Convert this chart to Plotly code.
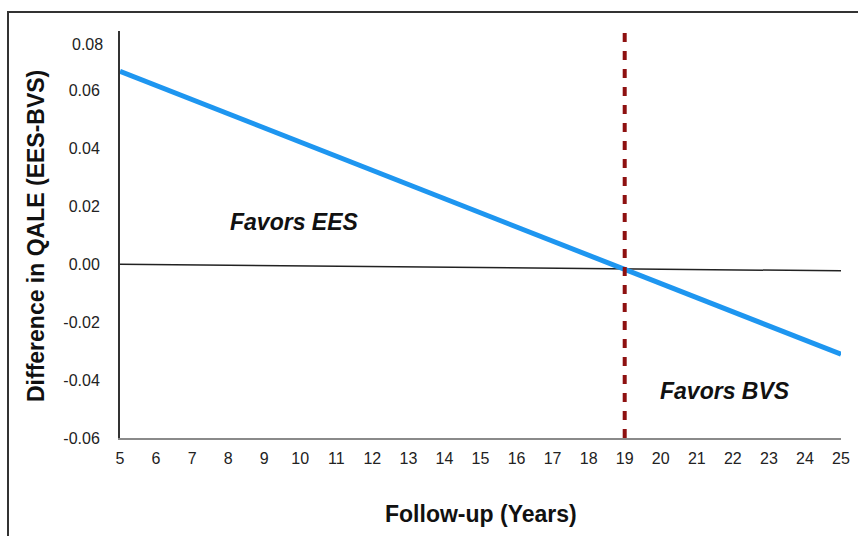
import plotly.graph_objects as go

# Data
years = [5, 25]
qale_diff = [0.0666, -0.0311]
baseline = [0.0, -0.0023]
threshold_year = 19
y_range = [-0.06, 0.0805]
x_ticks = list(range(5, 26))
y_ticks = [-0.06, -0.04, -0.02, 0.0, 0.02, 0.04, 0.06]
y_tick_text = ["-0.06", "-0.04", "-0.02", "0.00", "0.02", "0.04", "0.06"]

W, H = 858, 536
L, R, T, B = 120, 17, 31, 98
pw, ph = W - L - R, H - T - B

fig = go.Figure()
fig.add_trace(go.Scatter(x=years, y=baseline, mode="lines",
                         line=dict(color="#222222", width=1.5), hoverinfo="skip"))
fig.add_trace(go.Scatter(x=years, y=qale_diff, mode="lines",
                         line=dict(color="#1E96F0", width=5)))
fig.add_trace(go.Scatter(x=[threshold_year, threshold_year], y=[y_range[0], y_range[1]],
                         mode="lines", line=dict(color="#8E1111", width=4, dash="9px,9px")))

font = "Liberation Sans, Arial, sans-serif"
fig.update_layout(
    width=W, height=H, showlegend=False, autosize=False,
    margin=dict(l=L, r=R, t=T, b=B, pad=0),
    paper_bgcolor="white", plot_bgcolor="white",
    font=dict(family=font, size=16, color="#222222"),
    xaxis=dict(range=[5, 25], tickvals=x_ticks, showgrid=False, zeroline=False,
               showline=True, linecolor="#8a8a8a", linewidth=1.5, automargin=False,
               ticks="", ticklabelstandoff=5, tickfont=dict(size=16)),
    yaxis=dict(range=y_range, tickvals=y_ticks, ticktext=y_tick_text, showgrid=False,
               zeroline=False, showline=True, linecolor="#333333", linewidth=2,
               automargin=False, ticks="", ticklabelstandoff=15, tickfont=dict(size=16)),
)

def px(x):
    return (x - L) / pw

def py(y):
    return 1 - (y - T) / ph

annos = [
    dict(text="0.08", x=px(105), y=py(45), xanchor="right", yanchor="middle",
         font=dict(size=16, color="#222222")),
    dict(text="<b><i>Favors EES</i></b>", x=px(294), y=py(222), xanchor="center",
         yanchor="middle", font=dict(size=23, color="#111111")),
    dict(text="<b><i>Favors BVS</i></b>", x=px(725), y=py(391), xanchor="center",
         yanchor="middle", font=dict(size=23, color="#111111")),
    dict(text="<b>Follow-up (Years)</b>", x=px(481), y=py(514), xanchor="center",
         yanchor="middle", font=dict(size=23, color="#111111")),
    dict(text="<b>Difference in QALE (EES-BVS)</b>", x=px(36), y=py(236), xanchor="center",
         yanchor="middle", textangle=-90, font=dict(size=23, color="#111111")),
]
for a in annos:
    a.update(xref="paper", yref="paper", showarrow=False)
    fig.add_annotation(**a)

# frame border
fig.add_shape(type="rect", xref="paper", yref="paper",
              x0=px(8), y0=py(700), x1=px(1000), y1=py(12),
              line=dict(color="#333333", width=2), fillcolor="rgba(0,0,0,0)", layer="below")

fig.write_html("out.html", config={"displayModeBar": False},
               post_script="document.body.style.margin='0';document.body.style.overflow='hidden';")
